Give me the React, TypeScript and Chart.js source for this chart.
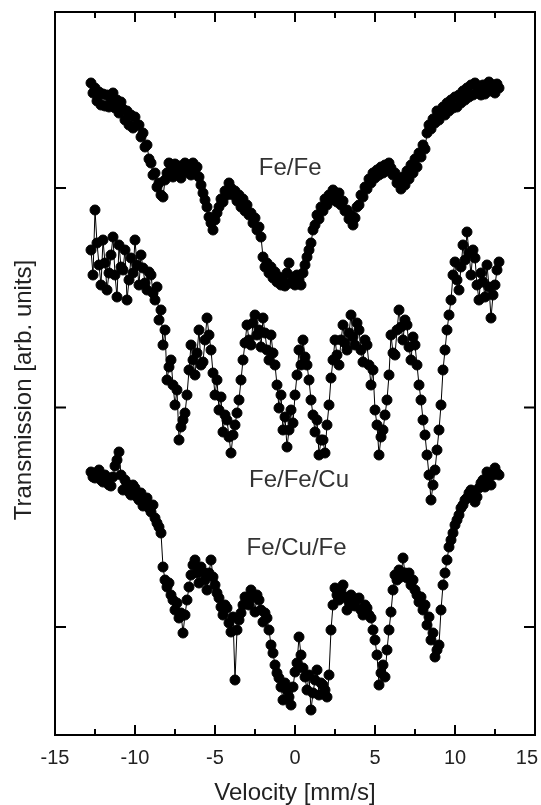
import React, { useEffect, useRef } from 'react';
import { Chart, registerables } from 'chart.js';

Chart.register(...registerables);

// Velocity channels [mm/s]
const velocity = [
  -12.75, -12.625, -12.5, -12.375, -12.25, -12.125, -12, -11.875,
  -11.75, -11.625, -11.5, -11.375, -11.25, -11.125, -11, -10.875,
  -10.75, -10.625, -10.5, -10.375, -10.25, -10.125, -10, -9.875,
  -9.75, -9.625, -9.5, -9.375, -9.25, -9.125, -9, -8.875,
  -8.75, -8.625, -8.5, -8.375, -8.25, -8.125, -8, -7.875,
  -7.75, -7.625, -7.5, -7.375, -7.25, -7.125, -7, -6.875,
  -6.75, -6.625, -6.5, -6.375, -6.25, -6.125, -6, -5.875,
  -5.75, -5.625, -5.5, -5.375, -5.25, -5.125, -5, -4.875,
  -4.75, -4.625, -4.5, -4.375, -4.25, -4.125, -4, -3.875,
  -3.75, -3.625, -3.5, -3.375, -3.25, -3.125, -3, -2.875,
  -2.75, -2.625, -2.5, -2.375, -2.25, -2.125, -2, -1.875,
  -1.75, -1.625, -1.5, -1.375, -1.25, -1.125, -1, -0.875,
  -0.75, -0.625, -0.5, -0.375, -0.25, -0.125, 0, 0.125,
  0.25, 0.375, 0.5, 0.625, 0.75, 0.875, 1, 1.125,
  1.25, 1.375, 1.5, 1.625, 1.75, 1.875, 2, 2.125,
  2.25, 2.375, 2.5, 2.625, 2.75, 2.875, 3, 3.125,
  3.25, 3.375, 3.5, 3.625, 3.75, 3.875, 4, 4.125,
  4.25, 4.375, 4.5, 4.625, 4.75, 4.875, 5, 5.125,
  5.25, 5.375, 5.5, 5.625, 5.75, 5.875, 6, 6.125,
  6.25, 6.375, 6.5, 6.625, 6.75, 6.875, 7, 7.125,
  7.25, 7.375, 7.5, 7.625, 7.75, 7.875, 8, 8.125,
  8.25, 8.375, 8.5, 8.625, 8.75, 8.875, 9, 9.125,
  9.25, 9.375, 9.5, 9.625, 9.75, 9.875, 10, 10.125,
  10.25, 10.375, 10.5, 10.625, 10.75, 10.875, 11, 11.125,
  11.25, 11.375, 11.5, 11.625, 11.75, 11.875, 12, 12.125,
  12.25, 12.375, 12.5, 12.625, 12.75,
];

// Transmission [arb. units], spectra shifted vertically
const feFe = [
  6.52, 6.42, 6.47, 6.34, 6.43, 6.30, 6.41, 6.29,
  6.40, 6.28, 6.36, 6.42, 6.27, 6.35, 6.22, 6.33,
  6.26, 6.15, 6.24, 6.10, 6.20, 6.07, 6.18, 6.10,
  6.10, 5.98, 6.02, 5.88, 5.90, 5.76, 5.72, 5.60,
  5.62, 5.48, 5.52, 5.40, 5.38, 5.55, 5.62, 5.72,
  5.66, 5.58, 5.71, 5.62, 5.69, 5.57, 5.66, 5.72,
  5.63, 5.70, 5.60, 5.72, 5.64, 5.68, 5.58, 5.50,
  5.42, 5.35, 5.28, 5.18, 5.12, 5.05, 5.15, 5.22,
  5.28, 5.36, 5.33, 5.44, 5.40, 5.52, 5.47, 5.40,
  5.44, 5.34, 5.40, 5.28, 5.36, 5.24, 5.30, 5.20,
  5.22, 5.12, 5.17, 5.05, 5.08, 4.98, 4.78, 4.68,
  4.72, 4.62, 4.68, 4.57, 4.63, 4.53, 4.58, 4.50,
  4.55, 4.49, 4.62, 4.72, 4.52, 4.58, 4.50, 4.60,
  4.55, 4.50, 4.62, 4.70, 4.78, 4.85, 4.92, 5.05,
  5.10, 5.20, 5.16, 5.28, 5.24, 5.36, 5.30, 5.40,
  5.35, 5.45, 5.38, 5.33, 5.42, 5.30, 5.34, 5.24,
  5.25, 5.16, 5.20, 5.10, 5.17, 5.28, 5.30, 5.40,
  5.38, 5.48, 5.46, 5.56, 5.52, 5.62, 5.57, 5.65,
  5.60, 5.68, 5.62, 5.70, 5.64, 5.72, 5.67, 5.60,
  5.62, 5.52, 5.56, 5.46, 5.58, 5.50, 5.64, 5.56,
  5.70, 5.62, 5.76, 5.68, 5.82, 5.78, 5.90, 5.86,
  6.02, 6.10, 6.06, 6.16, 6.12, 6.24, 6.15, 6.22,
  6.28, 6.20, 6.32, 6.24, 6.35, 6.27, 6.38, 6.28,
  6.40, 6.32, 6.44, 6.35, 6.47, 6.38, 6.50, 6.40,
  6.52, 6.42, 6.48, 6.40, 6.50, 6.41, 6.47, 6.53,
  6.44, 6.50, 6.42, 6.51, 6.47,
];

const feFeCu = [
  4.85, 4.60, 5.25, 4.92, 4.70, 4.50, 4.95, 4.72,
  4.45, 4.62, 4.80, 4.98, 4.60, 4.38, 4.90, 4.68,
  4.65, 4.85, 4.35, 4.55, 4.77, 4.62, 4.95, 4.70,
  4.50, 4.80, 4.67, 4.52, 4.45, 4.63, 4.60, 4.42,
  4.35, 4.48, 4.15, 4.25, 3.90, 4.05, 3.55, 3.68,
  3.75, 3.50, 3.30, 3.45, 2.95, 3.08, 3.15, 3.22,
  3.40, 3.65, 3.90, 3.75, 3.60, 3.82, 4.05, 3.70,
  3.73, 3.95, 4.17, 4.00, 3.85, 3.62, 3.40, 3.55,
  3.25, 3.38, 3.03, 3.20, 3.15, 2.98, 2.82, 3.00,
  3.10, 3.22, 3.35, 3.55, 3.75, 3.92, 4.10, 3.95,
  3.90, 4.12, 4.20, 4.00, 4.05, 3.88, 4.17, 4.02,
  3.85, 3.75, 4.00, 3.82, 3.70, 3.50, 3.27, 3.40,
  3.05, 3.18, 2.88, 3.05, 3.25, 3.12, 3.40, 3.60,
  3.85, 3.70, 3.95, 3.78, 3.70, 3.55, 3.35, 3.20,
  3.03, 3.15, 2.80, 2.95, 2.95, 2.82, 3.10, 3.30,
  3.57, 3.75, 3.95, 3.80, 3.70, 3.95, 4.10, 3.92,
  3.85, 4.02, 4.20, 3.98, 3.90, 4.12, 4.05, 3.85,
  3.73, 3.95, 3.90, 3.70, 3.50, 3.65, 3.25, 3.10,
  2.80, 2.98, 3.05, 3.20, 3.35, 3.60, 4.00, 3.82,
  3.80, 4.05, 4.25, 4.08, 3.95, 4.15, 4.10, 3.88,
  3.75, 3.98, 3.90, 3.70, 3.50, 3.35, 3.15, 3.00,
  2.80, 2.60, 2.35, 2.50, 2.65, 2.85, 3.05, 3.30,
  3.65, 3.85, 4.05, 4.20, 4.35, 4.60, 4.73, 4.55,
  4.45, 4.68, 4.90, 4.75, 5.03, 4.82, 4.60, 4.85,
  4.77, 4.50, 4.35, 4.62, 4.53, 4.38, 4.70, 4.48,
  4.17, 4.40, 4.50, 4.65, 4.73,
];

const feCuFe = [
  2.63, 2.58, 2.57, 2.62, 2.65, 2.55, 2.53, 2.60,
  2.57, 2.50, 2.49, 2.58, 2.69, 2.75, 2.83, 2.60,
  2.45, 2.55, 2.51, 2.43, 2.40, 2.50, 2.47, 2.38,
  2.35, 2.42, 2.29, 2.34, 2.37, 2.27, 2.23, 2.30,
  2.17, 2.12, 2.08, 2.02, 1.68, 1.55, 1.48, 1.52,
  1.40, 1.35, 1.25, 1.32, 1.17, 1.22, 1.02, 1.20,
  1.35, 1.48, 1.60, 1.70, 1.75, 1.62, 1.52, 1.68,
  1.63, 1.55, 1.45, 1.62, 1.75, 1.58, 1.50, 1.42,
  1.37, 1.28, 1.20, 1.30, 1.27, 1.12, 1.03, 1.18,
  0.55, 1.05, 1.15, 1.22, 1.30, 1.38, 1.37, 1.30,
  1.45, 1.38, 1.23, 1.40, 1.35, 1.25, 1.13, 1.22,
  1.17, 1.05, 0.90, 0.82, 0.70, 0.62, 0.57, 0.48,
  0.35, 0.52, 0.45, 0.38, 0.30, 0.48, 0.63, 0.72,
  0.98, 0.80, 0.67, 0.58, 0.45, 0.60, 0.25, 0.42,
  0.55, 0.65, 0.40, 0.52, 0.50, 0.45, 0.38, 0.60,
  1.05, 1.30, 1.47, 1.40, 1.35, 1.45, 1.50, 1.38,
  1.25, 1.33, 1.40, 1.30, 1.29, 1.36, 1.37, 1.25,
  1.20, 1.30, 1.27, 1.20, 1.17, 1.05, 0.95, 0.80,
  0.50, 0.62, 0.70, 0.58, 0.85, 1.05, 1.23, 1.45,
  1.60, 1.55, 1.65, 1.58, 1.77, 1.62, 1.57, 1.62,
  1.50, 1.55, 1.45, 1.40, 1.33, 1.38, 1.25, 1.30,
  1.10, 1.18, 0.95, 1.02, 0.78, 0.85, 0.90, 1.25,
  1.50, 1.62, 1.75, 1.88, 1.95, 2.02, 2.10, 2.15,
  2.20, 2.27, 2.30, 2.35, 2.37, 2.42, 2.45, 2.40,
  2.33, 2.38, 2.47, 2.52, 2.55, 2.48, 2.63, 2.58,
  2.50, 2.60, 2.67, 2.62, 2.60,
];

const seriesNames = ['Fe/Fe', 'Fe/Fe/Cu', 'Fe/Cu/Fe'];
const xTickValues = [-15, -10, -5, 0, 5, 10, 15];
const yTickValues = [1.08, 3.275, 5.47];

const FONT = '"Liberation Sans", Arial, Helvetica, sans-serif';

const toPoints = (ys: number[]) => ys.map((y, i) => ({ x: velocity[i], y }));

export default function App() {
  const canvasRef = useRef<HTMLCanvasElement | null>(null);

  useEffect(() => {
    document.body.style.margin = '0';
    const canvas = canvasRef.current;
    if (!canvas) return;

    const labelAnchors: Record<string, { x: number; y: number }> = {
      'Fe/Fe': { x: -0.3, y: 5.67 },
      'Fe/Fe/Cu': { x: 0.25, y: 2.55 },
      'Fe/Cu/Fe': { x: 0.1, y: 1.87 },
    };

    const framePlugin = {
      id: 'frameAndLabels',
      afterDatasetsDraw(chart: any) {
        const { ctx, chartArea, width } = chart;
        const { left, right, top, bottom } = chartArea;
        const xs = chart.scales.x;
        const ys = chart.scales.y;
        ctx.save();
        ctx.strokeStyle = '#000';
        ctx.lineWidth = 2;
        ctx.strokeRect(left, top, right - left, bottom - top);
        const major = 10;
        const minor = 6;
        ctx.beginPath();
        xTickValues.forEach((v, i) => {
          const px = xs.getPixelForValue(v);
          ctx.moveTo(px, bottom);
          ctx.lineTo(px, bottom - major);
          ctx.moveTo(px, top);
          ctx.lineTo(px, top + major);
          if (i < xTickValues.length - 1) {
            const m = xs.getPixelForValue((v + xTickValues[i + 1]) / 2);
            ctx.moveTo(m, bottom);
            ctx.lineTo(m, bottom - minor);
            ctx.moveTo(m, top);
            ctx.lineTo(m, top + minor);
          }
        });
        yTickValues.forEach((v) => {
          const py = ys.getPixelForValue(v);
          ctx.moveTo(left, py);
          ctx.lineTo(left + 11, py);
          ctx.moveTo(right, py);
          ctx.lineTo(right - 11, py);
        });
        ctx.stroke();

        // x tick labels (kept inside the canvas)
        ctx.fillStyle = '#222';
        ctx.font = `20px ${FONT}`;
        ctx.textAlign = 'center';
        ctx.textBaseline = 'middle';
        xTickValues.forEach((v) => {
          const label = String(v);
          const w = ctx.measureText(label).width;
          let cx = xs.getPixelForValue(v);
          if (cx + w / 2 > width - 3) cx = width - 3 - w / 2;
          if (cx - w / 2 < 2) cx = 2 + w / 2;
          ctx.fillText(label, cx, bottom + 23);
        });

        ctx.fillStyle = '#333';
        ctx.font = `24px ${FONT}`;
        seriesNames.forEach((name) => {
          const a = labelAnchors[name];
          ctx.fillText(name, xs.getPixelForValue(a.x), ys.getPixelForValue(a.y));
        });

        ctx.fillStyle = '#222';
        ctx.translate(24, 390);
        ctx.rotate(-Math.PI / 2);
        ctx.fillText('Transmission [arb. units]', 0, 0);
        ctx.restore();
      },
    };

    const makeDs = (label: string, ys: number[]) => ({
      label,
      data: toPoints(ys),
      borderColor: '#000',
      borderWidth: 1,
      backgroundColor: '#000',
      pointBackgroundColor: '#000',
      pointBorderColor: '#000',
      pointBorderWidth: 1,
      pointRadius: 5,
      pointHoverRadius: 5,
      showLine: true,
      tension: 0,
      fill: false,
    });

    const chart = new Chart(canvas, {
      type: 'line',
      data: {
        datasets: [
          makeDs(seriesNames[0], feFe),
          makeDs(seriesNames[1], feFeCu),
          makeDs(seriesNames[2], feCuFe),
        ],
      },
      options: {
        animation: false,
        responsive: false,
        devicePixelRatio: 1,
        layout: { padding: { top: 12, right: 6, left: 0, bottom: 0 } },
        plugins: {
          legend: { display: false },
          tooltip: { enabled: false },
        },
        scales: {
          x: {
            type: 'linear',
            min: -15,
            max: 15,
            grid: { display: false, drawTicks: false },
            border: { display: false },
            afterBuildTicks: (s: any) => {
              s.ticks = xTickValues.map((v) => ({ value: v }));
            },
            ticks: { display: false },
            title: {
              display: true,
              text: 'Velocity [mm/s]',
              color: '#222',
              font: { family: FONT, size: 24, lineHeight: 1 },
              padding: { top: 0, bottom: 0 },
            },
            afterFit: (s: any) => {
              s.height = 70;
              s.paddingLeft = 0;
              s.paddingRight = 0;
            },
          },
          y: {
            type: 'linear',
            min: 0,
            max: 7.23,
            grid: { display: false, drawTicks: false },
            border: { display: false },
            ticks: { display: false },
            afterBuildTicks: (s: any) => {
              s.ticks = yTickValues.map((v) => ({ value: v }));
            },
            afterFit: (s: any) => {
              s.width = 55;
              s.paddingTop = 0;
              s.paddingBottom = 0;
            },
          },
        },
      },
      plugins: [framePlugin],
    });

    return () => chart.destroy();
  }, []);

  return (
    <div style={{ width: 541, height: 805, background: '#fff' }}>
      <canvas ref={canvasRef} width={541} height={805} style={{ width: 541, height: 805, display: 'block' }} />
    </div>
  );
}
